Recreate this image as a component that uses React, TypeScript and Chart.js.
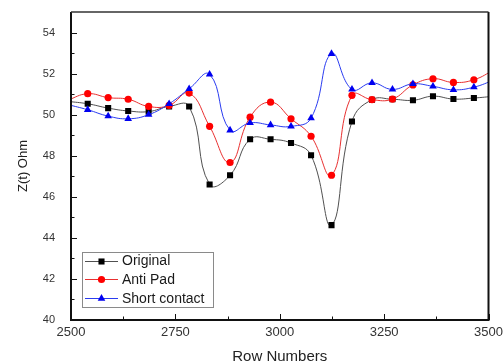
import React, { useEffect, useRef } from 'react';
import { Chart, registerables } from 'chart.js';

Chart.register(...registerables);

const ROWS = [2491, 2540, 2589, 2637, 2686, 2735, 2783, 2832, 2881, 2929, 2978, 3027, 3075, 3124, 3173, 3221, 3270, 3319, 3367, 3416, 3465, 3515];
const ORIGINAL = [50.65, 50.53, 50.32, 50.18, 50.15, 50.4, 50.4, 46.6, 47.05, 48.8, 48.8, 48.62, 48.02, 44.62, 49.67, 50.73, 50.75, 50.7, 50.9, 50.76, 50.81, 50.9];
const ANTI_PAD = [50.7, 51.02, 50.83, 50.75, 50.4, 50.45, 51.05, 49.43, 47.67, 49.88, 50.61, 49.8, 48.95, 47.05, 50.94, 50.73, 50.76, 51.45, 51.75, 51.57, 51.7, 52.2];
const SHORT_CONTACT = [50.5, 50.24, 49.93, 49.8, 50.0, 50.53, 51.26, 51.96, 49.24, 49.6, 49.5, 49.43, 49.83, 52.97, 51.23, 51.55, 51.23, 51.5, 51.38, 51.21, 51.34, 51.7];

const SERIES_NAMES = ['Original', 'Anti Pad', 'Short contact'];
const X_TICKS = [2500, 2750, 3000, 3250, 3500];
const X_MINOR = [2625, 2875, 3125, 3375];
const Y_TICKS = [40, 42, 44, 46, 48, 50, 52, 54];
const Y_MINOR = [41, 43, 45, 47, 49, 51, 53];
const X_MIN = 2500;
const X_MAX = 3500;
const Y_MIN = 40;
const Y_MAX = 55;

const FONT = "Arial, 'Liberation Sans', sans-serif";

const STYLES = [
  { line: '#505050', fill: '#000000', shape: 'rect', r: 4.3 },
  { line: '#e83030', fill: '#ff0000', shape: 'circle', r: 3.6 },
  { line: '#2a3cf0', fill: '#0000f0', shape: 'triangle', r: 4.4 },
];

function drawMarker(ctx: CanvasRenderingContext2D, shape: string, x: number, y: number, r: number, color: string) {
  ctx.fillStyle = color;
  ctx.beginPath();
  if (shape === 'rect') {
    const s = r * Math.SQRT1_2;
    ctx.rect(x - s, y - s, 2 * s, 2 * s);
  } else if (shape === 'circle') {
    ctx.arc(x, y, r, 0, Math.PI * 2);
  } else {
    ctx.moveTo(x, y - r);
    ctx.lineTo(x + (r * Math.sqrt(3)) / 2, y + r / 2);
    ctx.lineTo(x - (r * Math.sqrt(3)) / 2, y + r / 2);
    ctx.closePath();
  }
  ctx.fill();
}

const framePlugin = {
  id: 'frameAndLegend',
  afterDraw(chart: any) {
    const { ctx, chartArea: a, scales } = chart;
    const x = scales.x;
    const y = scales.y;
    ctx.save();
    ctx.strokeStyle = '#111';
    ctx.lineWidth = 1;
    ctx.beginPath();
    Y_TICKS.forEach((v) => {
      const p = Math.round(y.getPixelForValue(v)) + 0.5;
      ctx.moveTo(a.left, p);
      ctx.lineTo(a.left + 6, p);
    });
    Y_MINOR.forEach((v) => {
      const p = Math.round(y.getPixelForValue(v)) + 0.5;
      ctx.moveTo(a.left, p);
      ctx.lineTo(a.left + 3.5, p);
    });
    X_TICKS.forEach((v) => {
      const p = Math.round(x.getPixelForValue(v)) + 0.5;
      ctx.moveTo(p, a.bottom);
      ctx.lineTo(p, a.bottom - 6);
    });
    X_MINOR.forEach((v) => {
      const p = Math.round(x.getPixelForValue(v)) + 0.5;
      ctx.moveTo(p, a.bottom);
      ctx.lineTo(p, a.bottom - 3.5);
    });
    ctx.stroke();

    ctx.lineWidth = 2;
    ctx.beginPath();
    ctx.moveTo(a.left, a.top);
    ctx.lineTo(a.left, a.bottom);
    ctx.lineTo(a.right, a.bottom);
    ctx.lineTo(a.right, a.top);
    ctx.stroke();
    ctx.lineWidth = 1.5;
    ctx.strokeStyle = '#333';
    ctx.beginPath();
    ctx.moveTo(a.left, a.top);
    ctx.lineTo(a.right, a.top);
    ctx.stroke();

    // legend
    const bx = a.left + 11;
    const bw = 131;
    const bh = 55;
    const by = a.bottom - 13 - bh;
    ctx.fillStyle = '#ffffff';
    ctx.fillRect(bx, by, bw, bh);
    ctx.strokeStyle = '#8a8a8a';
    ctx.lineWidth = 1;
    ctx.strokeRect(Math.round(bx) + 0.5, Math.round(by) + 0.5, bw, bh);
    ctx.font = `14px ${FONT}`;
    ctx.textBaseline = 'middle';
    ctx.textAlign = 'left';
    SERIES_NAMES.forEach((name, i) => {
      const st = STYLES[i];
      const cy = by + 8.5 + i * 18.8;
      ctx.strokeStyle = st.line;
      ctx.lineWidth = 1;
      ctx.beginPath();
      ctx.moveTo(bx + 3, Math.round(cy) + 0.5);
      ctx.lineTo(bx + 36, Math.round(cy) + 0.5);
      ctx.stroke();
      drawMarker(ctx, st.shape, bx + 19.5, Math.round(cy) + 0.5, st.r, st.fill);
      ctx.fillStyle = '#1a1a1a';
      ctx.fillText(name, bx + 40, cy + 1);
    });
    ctx.restore();
  },
};

export default function App() {
  const ref = useRef<HTMLCanvasElement | null>(null);

  useEffect(() => {
    if (!ref.current) return;
    const seriesValues = [ORIGINAL, ANTI_PAD, SHORT_CONTACT];
    const inRange = (c: any) => {
      const v = c.raw && c.raw.x;
      return v >= X_MIN && v <= X_MAX;
    };
    const datasets = seriesValues.map((vals, i) => {
      const st = STYLES[i];
      return {
        label: SERIES_NAMES[i],
        data: ROWS.map((r, j) => ({ x: r, y: vals[j] })),
        borderColor: st.line,
        borderWidth: 1,
        backgroundColor: st.fill,
        pointStyle: st.shape,
        pointRadius: (c: any) => (inRange(c) ? st.r : 0),
        pointBackgroundColor: st.fill,
        pointBorderColor: st.fill,
        pointBorderWidth: 0,
        tension: 0.45,
        order: 3 - i,
      };
    });
    const chart = new Chart(ref.current, {
      type: 'line',
      data: { datasets },
      options: {
        animation: false,
        responsive: false,
        maintainAspectRatio: false,
        layout: { padding: { top: 12, right: 0, left: 0, bottom: 0 } },
        plugins: { legend: { display: false }, tooltip: { enabled: false } },
        scales: {
          x: {
            type: 'linear',
            min: X_MIN,
            max: X_MAX,
            bounds: 'data',
            afterBuildTicks: (s: any) => {
              s.ticks = X_TICKS.map((value) => ({ value }));
            },
            afterFit: (s: any) => {
              s.height = 44;
              s.paddingLeft = 0;
              s.paddingRight = 14.5;
            },
            grid: { display: false, drawTicks: false },
            border: { display: false },
            ticks: {
              padding: 5,
              color: '#333',
              font: { size: 13, family: FONT },
              maxRotation: 0,
              autoSkip: false,
              callback: (v: any) => String(v),
            },
            title: {
              display: true,
              text: 'Row Numbers',
              color: '#222',
              font: { size: 15, family: FONT, lineHeight: 1 },
              padding: 0,
            },
          },
          y: {
            type: 'linear',
            min: Y_MIN,
            max: Y_MAX,
            bounds: 'data',
            afterBuildTicks: (s: any) => {
              s.ticks = Y_TICKS.map((value) => ({ value }));
            },
            afterFit: (s: any) => {
              s.width = 71;
              s.paddingTop = 0;
              s.paddingBottom = 0;
            },
            grid: { display: false, drawTicks: false },
            border: { display: false },
            ticks: {
              padding: 16,
              color: '#333',
              font: { size: 11, family: FONT },
              autoSkip: false,
              callback: (v: any) => String(v),
            },
            title: {
              display: true,
              text: 'Z(t) Ohm',
              color: '#222',
              font: { size: 13, family: FONT, lineHeight: 1.2 },
              padding: { top: 16, bottom: 0 },
            },
          },
        },
      },
      plugins: [framePlugin],
    } as any);
    return () => chart.destroy();
  }, []);

  return (
    <div style={{ position: 'fixed', left: 0, top: 0, width: 503, height: 364, background: '#fff' }}>
      <canvas ref={ref} width={503} height={364} style={{ display: 'block', width: 503, height: 364 }} />
    </div>
  );
}
